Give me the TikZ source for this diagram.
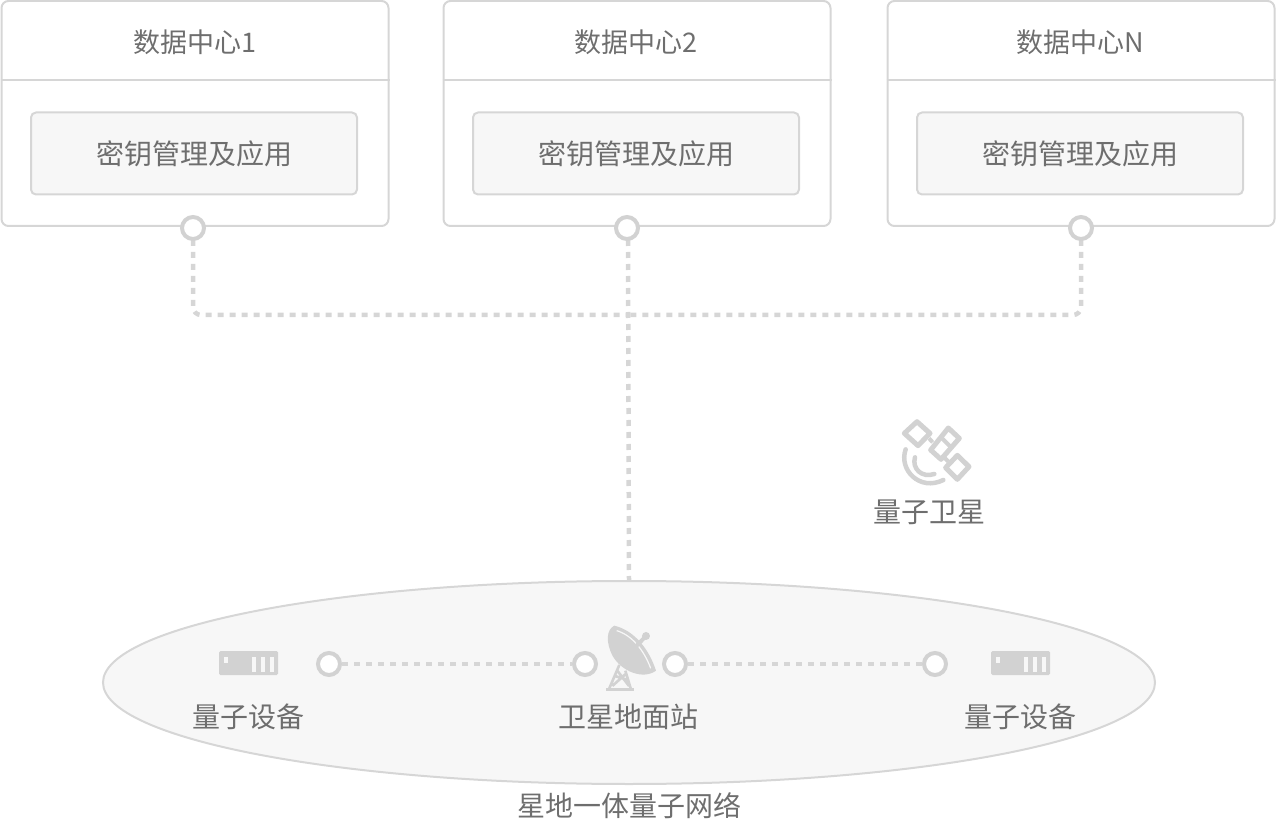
\documentclass[tikz,border=0pt]{standalone}
\usepackage{fontspec}
\setmainfont{Noto Sans CJK SC}
\usepackage{xcolor}
\usetikzlibrary{shapes,calc,positioning}
\definecolor{mline}{HTML}{D6D6D6}
\definecolor{micon}{HTML}{D2D2D2}
\definecolor{mfill}{HTML}{F7F7F7}
\definecolor{mtext}{HTML}{6E6E6E}
\tikzstyle{dc}=[rectangle, draw=mline, line width=2, rounded corners=7, minimum width=387, minimum height=225, inner sep=0]
\tikzstyle{app}=[rectangle, draw=mline, fill=mfill, line width=2, rounded corners=5, minimum width=326, minimum height=82, inner sep=0, text=mtext, font=\fontsize{28}{30}\selectfont]
\tikzstyle{lab}=[text=mtext, inner sep=0, font=\fontsize{28}{30}\selectfont]
\tikzstyle{head}=[text=mtext, inner sep=0, font=\fontsize{27}{30}\selectfont]
\tikzstyle{port}=[circle, draw=micon, fill=white, line width=4, minimum size=22, inner sep=0]
\tikzstyle{l1}=[draw=mline, line width=2]
\tikzstyle{link}=[draw=mline, line width=4.5, dash pattern=on 6 off 6]
\begin{document}
\begin{tikzpicture}[x=1pt,y=-1pt]
    \useasboundingbox (0,0) rectangle (1278,826);

    \node[dc] (dc1) at (195,113.5) {};
    \node[dc] (dc2) at (637,113.5) {};
    \node[dc] (dc3) at (1081,113.5) {};
    \node[head] (t1) at (195,42) {数据中心1};
    \node[head] (t2) at (636,42) {数据中心2};
    \node[head] (t3) at (1080,42) {数据中心N};
    \node[app] (a1) at (194,153.5) {密钥管理及应用};
    \node[app] (a2) at (636,153.5) {密钥管理及应用};
    \node[app] (a3) at (1080,153.5) {密钥管理及应用};
    \foreach \n in {1,2,3}
        \draw[l1] ($(dc\n.north west)+(0,80)$) -- ($(dc\n.north east)+(0,80)$);

    \node[ellipse, draw=mline, fill=mfill, line width=2, minimum width=1052, minimum height=203, inner sep=0] (net) at (629,682.5) {};
    \node[lab] (net label) at (629,806) {星地一体量子网络};

    \coordinate (bus) at (628,315);
    \draw[link, rounded corners=8] (193,240) |- (bus);
    \draw[link, rounded corners=8] (1081,240) |- (bus);
    \draw[link] (628,240) -- (net.north);
    \node[port] (p1) at (193,228) {};
    \node[port] (p2) at (627,228) {};
    \node[port] (p3) at (1081,228) {};

    \node[port] (q1) at (329,664) {};
    \node[port] (q2) at (585,664) {};
    \node[port] (q3) at (675,664) {};
    \node[port] (q4) at (935,664) {};
    \draw[link] (q1) -- (q2);
    \draw[link] (q3) -- (q4);

    % devices
    \foreach \sx in {219,991} {
        \fill[micon, rounded corners=1.5] (\sx,651) rectangle +(59,24);
        \fill[mfill] (\sx+5,657) rectangle +(4,6);
        \foreach \bx in {33,42,51}
            \fill[mfill] (\sx+\bx,657) rectangle +(4,15);
    }
    \node[lab] (d1) at (248,717) {量子设备};
    \node[lab] (d2) at (1020,717) {量子设备};
    \node[lab] (st) at (628,717) {卫星地面站};
    \node[lab] (sat) at (929,512) {量子卫星};

    % dish, zoom units
    \begin{scope}[shift={(560,600)},x=0.3333pt,y=-0.3333pt]
        \fill[micon] (163,77) .. controls (140,88) and (136,125) .. (158,168)
            .. controls (185,215) and (250,240) .. (288,212)
            .. controls (268,150) and (225,92) .. (163,77) -- cycle;
        \draw[mfill, line width=1.2] (170,92) .. controls (215,105) and (252,150) .. (272,205);
        \draw[micon, line width=4] (208,160) -- (258,108);
        \fill[micon] (258,108) circle (12);
        \draw[micon, line width=2.6] (178,195) -- (148,265) (196,212) -- (212,265)
            (165,228) -- (203,240) (157,258) -- (197,222) (172,212) -- (207,258);
        \fill[micon] (138,263) rectangle (223,272);
    \end{scope}

    % satellite, zoom units
    \begin{scope}[shift={(880,400)},x=0.3333pt,y=-0.3333pt]
        \draw[micon, line width=5, line join=round] (111,65) -- (150,100) -- (114,137) -- (73,100) -- cycle;
        \draw[micon, line width=5, line join=round] (205,84) -- (238,115) -- (183,178) -- (152,150) -- cycle;
        \draw[micon, line width=4] (183,112) -- (216,145);
        \draw[micon, line width=5, line join=round] (232,166) -- (267,200) -- (232,238) -- (197,203) -- cycle;
        \draw[micon, line width=4] (147,115) -- (158,127) (190,170) -- (205,185);
        \draw[micon, line width=4.5, line cap=round] (77,148) .. controls (55,210) and (120,275) .. (190,240);
        \draw[micon, line width=4.5, line cap=round] (105,172) .. controls (95,205) and (125,235) .. (163,222);
    \end{scope}
\end{tikzpicture}
\end{document}
